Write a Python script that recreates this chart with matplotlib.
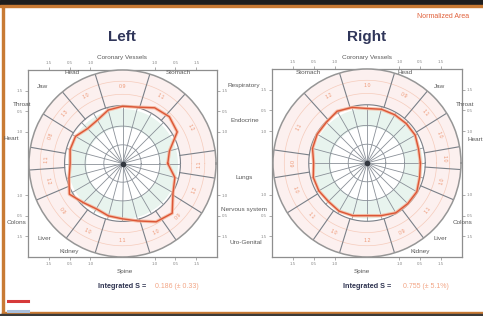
import numpy as np
import matplotlib.pyplot as plt
from matplotlib.patches import Rectangle

plt.rcParams['font.family'] = ['Liberation Sans', 'DejaVu Sans']

# --- dados ---
angles_deg = [0, 15, 30, 45, 60, 75, 90, 105, 120, 135, 150, 165,
              180, 195, 210, 225, 240, 255, 270, 285, 300, 315, 330, 345]
left_values = [1.21, 1.30, 1.69, 1.77, 1.72, 1.56, 1.53, 1.48, 1.34, 1.32, 1.45, 1.45,
               1.40, 1.48, 1.64, 1.48, 1.40, 1.45, 1.48, 1.59, 1.80, 1.88, 1.56, 1.45]
right_values = [1.42, 1.42, 1.48, 1.48, 1.48, 1.48, 1.45, 1.53, 1.59, 1.53, 1.53, 1.50,
                1.42, 1.48, 1.48, 1.45, 1.48, 1.45, 1.40, 1.45, 1.53, 1.53, 1.53, 1.45]

left_sectors = [8, 48, 73, 107, 130, 148, 170, 184, 203, 233, 253, 287, 305, 328, 351]
right_sectors = [172, 132, 107, 73, 50, 32, 10, 356, 337, 307, 287, 253, 235, 212, 189]
left_sector_labels = ["1.2", "1.1", "0.9", "1.0", "1.3", "0.8", "1.1", "1.2",
                      "0.9", "1.0", "1.1", "1.0", "0.9", "1.2", "1.1"]
right_sector_labels = ["1.0", "1.1", "0.9", "1.0", "1.2", "1.1", "0.9", "1.0",
                       "1.1", "1.0", "1.2", "0.9", "1.1", "1.0", "1.0"]

frame_ticks = [-1.95, -1.4, -0.85, 0.85, 1.4, 1.95]
frame_tick_labels = ["1.5", "0.5", "1.0", "1.0", "0.5", "1.5"]

left_names = [("Coronary Vessels", 122, 58), ("Head", 72, 73), ("Stomach", 178, 73),
              ("Jaw", 43, 87), ("Throat", 22, 105), ("Heart", 11, 139),
              ("Colons", 17, 222), ("Liver", 44, 239), ("Kidney", 69, 252),
              ("Spine", 125, 271)]
middle_names = [("Respiratory", 244, 85), ("Endocrine", 245, 120), ("Lungs", 244, 178),
                ("Nervous system", 244, 210), ("Uro-Genital", 246, 242)]
right_names = [("Coronary Vessels", 367, 58), ("Stomach", 308, 73), ("Head", 405, 73),
               ("Jaw", 440, 87), ("Throat", 465, 104), ("Heart", 475, 140),
               ("Colons", 463, 222), ("Liver", 440, 238), ("Kidney", 420, 252),
               ("Spine", 362, 271)]

W, H = 483, 316
R_MAX = 2.5
R_SECTOR = 1.55


def fx(px):
    return px / W


def fy(py):
    return 1 - py / H


def desenhar_painel(fig, rect, values, sectors, sector_labels):
    # moldura quadrada com os ticks
    ax_f = fig.add_axes(rect)
    ax_f.set_xlim(-R_MAX, R_MAX)
    ax_f.set_ylim(-R_MAX, R_MAX)
    ax_f.set_xticks(frame_ticks)
    ax_f.set_yticks(frame_ticks)
    ax_f.set_xticklabels(frame_tick_labels)
    ax_f.set_yticklabels(frame_tick_labels)
    ax_f.tick_params(labelsize=3.2, colors='#8a8a8a', length=2, width=0.5, pad=1.5,
                     top=True, right=True, labeltop=True, labelright=True)
    for s in ax_f.spines.values():
        s.set_color('#8e8e8e')
        s.set_linewidth(0.9)

    ax = fig.add_axes(rect, projection='polar')
    ax.set_facecolor('none')
    ax.set_ylim(0, R_MAX)
    ax.grid(False)
    ax.set_xticks([])
    ax.set_yticks([])
    ax.spines['polar'].set_color('#969696')
    ax.spines['polar'].set_linewidth(1.1)

    th = np.linspace(0, 2 * np.pi, 361)
    ax.fill_between(th, R_SECTOR, R_MAX, color='#fcf0ef', zorder=0)
    ax.fill_between(th, 1.0, 1.45, color='#e8f4ee', zorder=0)

    # anéis
    for r in [0.5, 1.0]:
        ax.plot(th, np.full_like(th, r), color='#8a9098', lw=0.6)
    ax.plot(th, np.full_like(th, R_SECTOR), color='#7a8088', lw=0.8)
    for r in [1.85, 2.2]:
        ax.plot(th, np.full_like(th, r), color='#f5cbbb', lw=0.5)

    # raios internos
    for a in angles_deg:
        t = np.deg2rad(a)
        ax.plot([t, t], [0, R_SECTOR], color='#8a9098', lw=0.6)
    ax.plot([0], [0], 'o', color='#333840', ms=3)

    # setores externos
    sec_sorted = sorted(sectors)
    for a in sec_sorted:
        t = np.deg2rad(a)
        ax.plot([t, t], [R_SECTOR, R_MAX], color='#7a8088', lw=0.8)
    for i, a in enumerate(sec_sorted):
        b = sec_sorted[(i + 1) % len(sec_sorted)]
        if b < a:
            b += 360
        mid = (a + b) / 2 % 360
        rot = mid - 90 if 0 <= mid <= 180 else mid + 90
        ax.text(np.deg2rad(mid), 2.05, sector_labels[i], fontsize=3.8, color='#ee9a78',
                ha='center', va='center', rotation=rot)

    # curva
    t = np.deg2rad(angles_deg + [angles_deg[0]])
    v = values + [values[0]]
    ax.plot(t, v, color='#f5b297', lw=2.4, alpha=0.8)
    ax.plot(t, v, color='#dc5636', lw=1.0)
    return ax


def plotar():
    fig = plt.figure(figsize=(W / 100, H / 100), dpi=100)
    fig.patch.set_facecolor('white')

    # bordas do slide
    fig.patches.append(Rectangle((0, fy(5)), 1, 5 / H, transform=fig.transFigure,
                                 color='#1e1e1e', zorder=0))
    fig.patches.append(Rectangle((0, fy(7)), 1, 2 / H, transform=fig.transFigure,
                                 color='#c87a34', zorder=0))
    fig.patches.append(Rectangle((fx(2), fy(314)), 2 / W, 307 / H, transform=fig.transFigure,
                                 color='#c87a34', zorder=0))
    fig.patches.append(Rectangle((fx(2), fy(314)), 1, 2 / H, transform=fig.transFigure,
                                 color='#c87a34', zorder=0))
    fig.patches.append(Rectangle((0, 0), 1, 2 / H, transform=fig.transFigure,
                                 color='#3a3a3a', zorder=0))

    desenhar_painel(fig, [fx(28), fy(257), 189 / W, 187 / H],
                    left_values, left_sectors, left_sector_labels)
    desenhar_painel(fig, [fx(272), fy(257), 190 / W, 188 / H],
                    right_values, right_sectors, right_sector_labels)

    fig.text(fx(122), fy(37), "Left", fontsize=11, color='#30365a', weight='bold',
             ha='center', va='center')
    fig.text(fx(367), fy(37), "Right", fontsize=11, color='#30365a', weight='bold',
             ha='center', va='center')
    fig.text(fx(417), fy(16), "Normalized Area", fontsize=5, color='#e0603a',
             ha='left', va='center')

    for name, x, y in left_names + middle_names + right_names:
        fig.text(fx(x), fy(y), name, fontsize=4.6, color='#5a5a5a', ha='center', va='center')

    fig.text(fx(148), fy(287), "Integrated S = ", fontsize=5.2, color='#2e3350',
             weight='bold', ha='right', va='center')
    fig.text(fx(155), fy(287), "0.186 (\u00b1 0.33)", fontsize=5, color='#f2a585',
             ha='left', va='center')
    fig.text(fx(393), fy(287), "Integrated S = ", fontsize=5.2, color='#2e3350',
             weight='bold', ha='right', va='center')
    fig.text(fx(403), fy(287), "0.755 (\u00b1 5.1%)", fontsize=5, color='#f2a585',
             ha='left', va='center')

    # legenda
    fig.lines.append(plt.Line2D([fx(8), fx(28)], [fy(301), fy(301)], transform=fig.transFigure,
                                color='#d63a3a', lw=2.2))
    fig.lines.append(plt.Line2D([fx(8), fx(28)], [fy(311), fy(311)], transform=fig.transFigure,
                                color='#a9bfdc', lw=2.2))

    fig.savefig('out.png', dpi=100)
    plt.close(fig)


if __name__ == "__main__":
    plotar()
